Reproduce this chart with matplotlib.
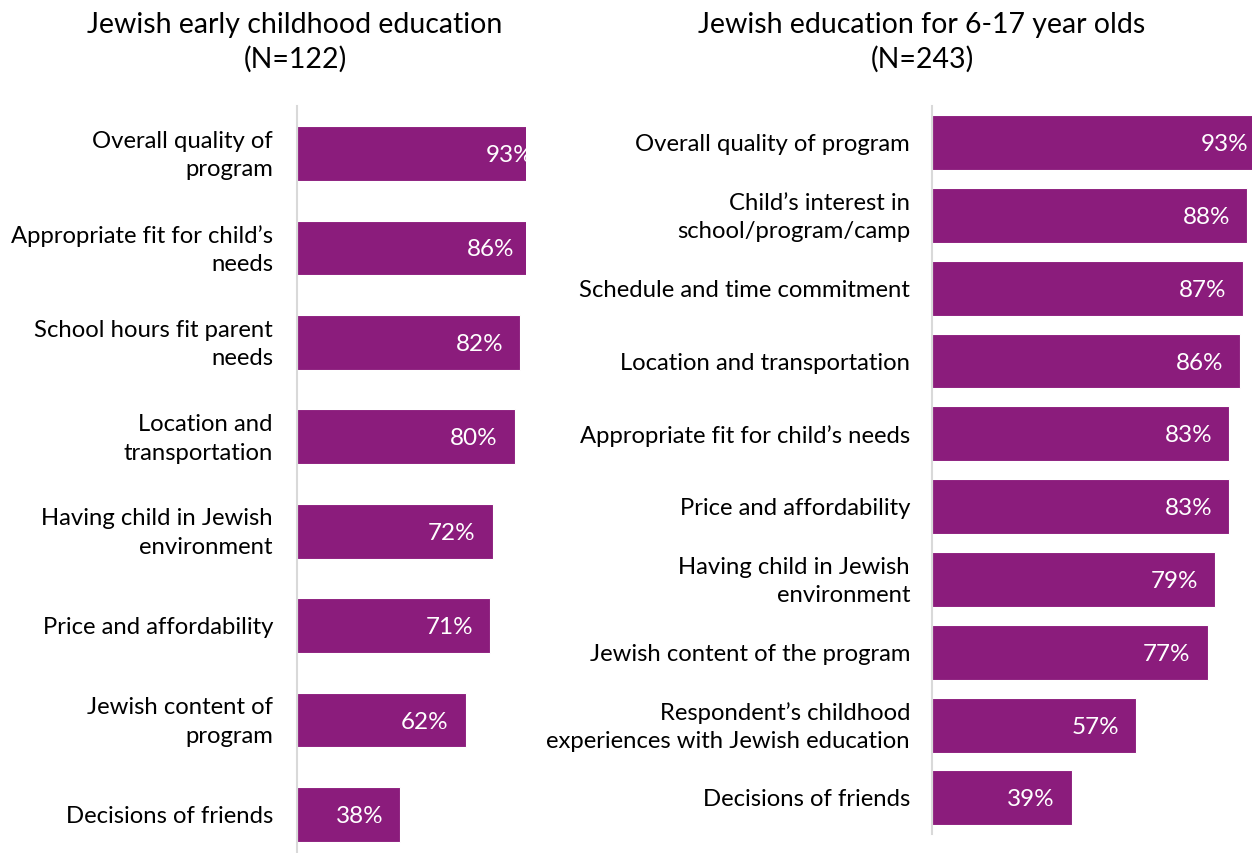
import matplotlib.pyplot as plt

plt.rcParams["font.family"] = ["Lato", "DejaVu Sans"]

# Early childhood panel
ec_title = "Jewish early childhood education\n(N=122)"
ec_labels = [
    "Overall quality of\nprogram",
    "Appropriate fit for child\u2019s\nneeds",
    "School hours fit parent\nneeds",
    "Location and\ntransportation",
    "Having child in Jewish\nenvironment",
    "Price and affordability",
    "Jewish content of\nprogram",
    "Decisions of friends",
]
ec_values = [93, 86, 82, 80, 72, 71, 62, 38]

# School-age panel
sa_title = "Jewish education for 6-17 year olds\n(N=243)"
sa_labels = [
    "Overall quality of program",
    "Child\u2019s interest in\nschool/program/camp",
    "Schedule and time commitment",
    "Location and transportation",
    "Appropriate fit for child\u2019s needs",
    "Price and affordability",
    "Having child in Jewish\nenvironment",
    "Jewish content of the program",
    "Respondent\u2019s childhood\nexperiences with Jewish education",
    "Decisions of friends",
]
sa_values = [93, 88, 87, 86, 83, 83, 79, 77, 57, 39]

BAR = "#8B1C7C"
W, H = 1252, 854
fig = plt.figure(figsize=(W / 100, H / 100), dpi=100)


def panel(rect_px, labels, values, xmax, bar_h, label_x_px, title, title_x_px):
    x0, y0, x1, y1 = rect_px
    ax = fig.add_axes([x0 / W, 1 - y1 / H, (x1 - x0) / W, (y1 - y0) / H])
    n = len(values)
    pos = list(range(n))
    ax.barh(pos, values, height=bar_h, color=BAR, edgecolor="white", linewidth=0.8)
    ax.set_ylim(n - 0.5, -0.5)
    ax.set_xlim(0, xmax)
    for p, v in zip(pos, values):
        ax.annotate(f"{v}%", (v, p), xytext=(-17, -1), textcoords="offset pixels",
                    ha="right", va="center", color="white", fontsize=17.5,
                    annotation_clip=False, clip_on=True)
    for p, lab in zip(pos, labels):
        ax.annotate(lab, (0, p), xytext=(label_x_px - x0, -1), textcoords="offset pixels",
                    ha="right", va="center", color="black", fontsize=17.2,
                    linespacing=1.45, annotation_clip=False)
    ax.set_xticks([])
    ax.set_yticks([])
    for s in ("top", "right", "bottom"):
        ax.spines[s].set_visible(False)
    ax.spines["left"].set_color("#d9d9d9")
    ax.spines["left"].set_linewidth(1.5)
    fig.text(title_x_px / W, 1 - 42 / H, title, ha="center", va="center",
             fontsize=20.5, color="black", linespacing=1.35)
    return ax


panel((297, 107.3, 526, 862.7), ec_labels, ec_values, 229 / 2.72, 0.58, 273,
      ec_title, 295)
panel((932, 107.1, 1252, 835.4), sa_labels, sa_values, 320 / 3.58, 0.755, 910,
      sa_title, 922)

fig.savefig("out.png", dpi=100)
